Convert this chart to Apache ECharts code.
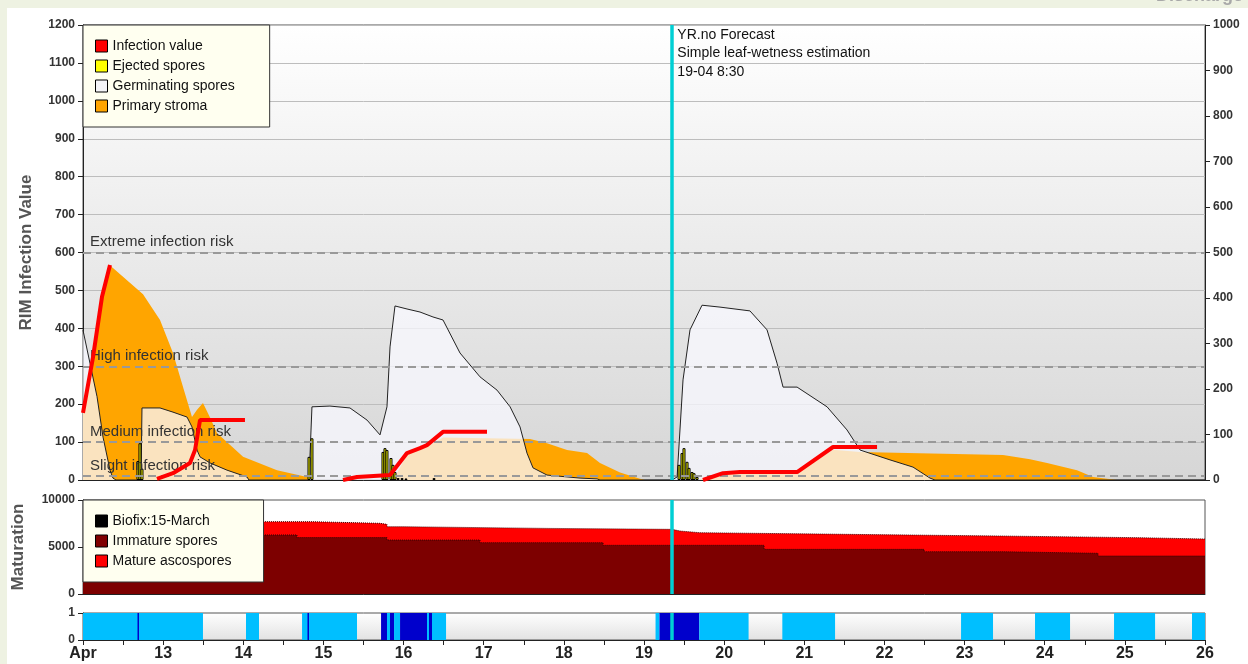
<!DOCTYPE html>
<html>
<head>
<meta charset="utf-8">
<title>RIM infection</title>
<script src="https://cdn.jsdelivr.net/npm/echarts@6/dist/echarts.min.js"></script>
<style>
  html, body { margin: 0; padding: 0; background: #eef2e2; }
  #main { width: 1248px; height: 664px; }
</style>
</head>
<body>
<div id="main"></div>
<script>
// x values are days after 12 April 00:00
const dayLabels = ['Apr', '13', '14', '15', '16', '17', '18', '19', '20', '21', '22', '23', '24', '25', '26']
const forecastAt = 7.354 // 19-04 8:30
const forecastText = ['YR.no Forecast', 'Simple leaf-wetness estimation', '19-04 8:30']

const riskLevels = [
  { name: 'Extreme infection risk', value: 600 },
  { name: 'High infection risk', value: 300 },
  { name: 'Medium infection risk', value: 100 },
  { name: 'Slight infection risk', value: 10 }
]

const infectionValue = [
  [0, 177], [0.125, 324], [0.237, 483], [0.337, 567], null,
  [0.923, 3], [1.123, 18], [1.335, 45], [1.398, 79], [1.46, 158], [2.021, 158], null,
  [3.244, 0], [3.419, 8], [3.831, 13], [4.043, 71], [4.205, 84], [4.292, 92], [4.492, 127], [5.041, 127], null,
  [7.736, 0], [7.986, 18], [8.198, 21], [8.91, 21], [9.359, 87], [9.908, 87]
]

const ejectedSpores = [
  [0.686, 50], [0.711, 97], [0.736, 30],
  [2.82, 61], [2.857, 110],
  [3.743, 74], [3.768, 84], [3.793, 79], [3.843, 58], [3.868, 40], [3.893, 21],
  [3.931, 5], [3.981, 5], [4.03, 4], [4.38, 5],
  [7.437, 40], [7.474, 71], [7.499, 84], [7.537, 48], [7.562, 32], [7.599, 21], [7.624, 18], [7.662, 8]
]

const germinatingSpores = [
  [0, 395], [0.087, 308], [0.175, 220], [0.25, 113], [0.337, 26], [0.374, 5], [0.412, 0],
  [0.724, 0], [0.736, 190], [0.961, 190], [1.123, 179], [1.298, 166], [1.36, 140], [1.423, 79],
  [1.46, 61], [1.585, 45], [1.797, 26], [2.046, 8], [2.071, 0],
  [2.82, 0], [2.857, 193], [3.081, 195], [3.331, 190], [3.544, 158], [3.706, 119], [3.793, 193],
  [3.831, 351], [3.893, 459], [4.043, 451], [4.205, 443], [4.367, 430], [4.492, 422], [4.704, 335],
  [4.954, 272], [5.166, 237], [5.329, 193], [5.453, 140], [5.54, 71], [5.615, 32], [5.79, 13],
  [6.202, 5], [6.414, 3], [6.451, 0],
  [7.35, 0], [7.413, 8], [7.487, 264], [7.574, 396], [7.724, 461], [7.948, 456], [8.322, 446],
  [8.535, 396], [8.66, 308], [8.735, 245], [8.91, 245], [9.284, 193], [9.533, 132], [9.696, 79],
  [10.07, 53], [10.357, 34], [10.569, 5], [10.631, 0], [14, 0]
]

const primaryStroma = [
  [0, 177], [0.125, 324], [0.237, 483], [0.337, 565], [0.374, 559], [0.749, 490], [0.961, 422],
  [1.123, 335], [1.248, 245], [1.36, 166], [1.423, 185], [1.497, 203], [1.585, 165], [1.672, 124],
  [1.997, 61], [2.421, 26], [2.795, 8], [2.895, 0],
  [3.831, 0], [3.893, 8], [4.043, 68], [4.205, 80], [4.292, 88], [4.492, 112], [5.578, 108],
  [5.79, 97], [6.04, 79], [6.289, 71], [6.451, 45], [6.701, 20], [6.95, 3], [7.013, 0],
  [7.699, 0], [7.736, 5], [7.986, 15], [8.198, 18], [8.91, 18], [9.359, 80], [9.696, 74],
  [11.48, 66], [11.817, 55], [12.029, 45], [12.403, 26], [12.603, 8], [12.903, 0]
]

// maturation: total spores (top of red) and immature spores, step values
const totalSpores = [
  [0, 7690], [2.87, 7520], [3.706, 7410], [3.793, 7160], [3.993, 6980], [5.802, 6880],
  [7.35, 6700], [7.45, 6520], [7.699, 6350], [9.508, 6170], [11.43, 5990], [13.177, 5850], [14, 5850]
]
const immatureSpores = [
  [0, 6280], [2.67, 6000], [3.793, 5740], [4.954, 5460], [6.489, 5180], [8.498, 4750],
  [10.494, 4500], [11.48, 4330], [12.665, 4040], [14, 4040]
]

// leaf wetness: [start, end, kind] kind 1 = wet (estimate), 2 = wet (measured)
const wetness = [
  [0, 1.497, 1], [0.68, 0.699, 2], [2.034, 2.196, 1], [2.733, 3.419, 1], [2.801, 2.82, 2],
  [3.719, 3.793, 2], [3.793, 3.831, 1], [3.831, 3.881, 2], [3.881, 3.956, 1], [3.956, 4.292, 2],
  [4.292, 4.317, 1], [4.317, 4.355, 2], [4.355, 4.53, 1],
  [7.144, 7.193, 1], [7.193, 7.69, 2], [7.69, 8.305, 1], [8.726, 9.384, 1],
  [10.956, 11.355, 1], [11.879, 12.316, 1], [12.865, 13.377, 1], [13.838, 14, 1]
]
const wetColors = { 1: '#00bfff', 2: '#0000cc' }

const font = 'Liberation Sans, Arial, sans-serif'
const chart = echarts.init(document.getElementById('main'))

const tickLabel = {
  fontFamily: font, fontSize: 12, fontWeight: 'bold', color: '#333',
  formatter: function(v) { return String(v) }
}
const blackLine = { show: true, lineStyle: { color: '#222', width: 1 } }
const outTick = { show: true, length: 5, lineStyle: { color: '#222' } }

function hiddenX(gridIndex) {
  return {
    type: 'value', gridIndex: gridIndex, min: 0, max: 14, interval: 1,
    axisLine: blackLine, axisTick: { show: false }, axisLabel: { show: false }, splitLine: { show: false }
  }
}

function cyanLine() {
  return {
    silent: true, symbol: 'none', label: { show: false },
    lineStyle: { color: '#00cfd4', width: 3.5, type: 'solid', opacity: 1 },
    data: [{ xAxis: forecastAt }]
  }
}

chart.setOption({
  backgroundColor: '#eef2e2',
  animation: false,
  grid: [
    {
      left: 83, right: 43, top: 25, height: 455, show: true, borderColor: '#555', borderWidth: 1,
      backgroundColor: new echarts.graphic.LinearGradient(0, 0, 0, 1, [
        { offset: 0, color: '#ffffff' }, { offset: 1, color: '#d6d6d6' }
      ])
    },
    { left: 83, right: 43, top: 500, height: 94, show: true, borderColor: '#555', borderWidth: 1, backgroundColor: '#fff' },
    {
      left: 83, right: 43, top: 613, height: 27, show: true, borderColor: '#555', borderWidth: 1,
      backgroundColor: new echarts.graphic.LinearGradient(0, 0, 0, 1, [
        { offset: 0, color: '#ffffff' }, { offset: 1, color: '#e2e2e2' }
      ])
    }
  ],
  legend: [
    {
      left: 83, top: 25, orient: 'vertical', itemGap: 6, itemWidth: 12, itemHeight: 12,
      padding: [14, 35, 14, 12], backgroundColor: '#fffff0', borderColor: '#333', borderWidth: 1,
      textStyle: { fontFamily: font, fontSize: 14, color: '#111' },
      selectedMode: false,
      data: [
        { name: 'Infection value', icon: 'rect', itemStyle: { color: '#ff0000', borderColor: '#000', borderWidth: 1 } },
        { name: 'Ejected spores', icon: 'rect', itemStyle: { color: '#ffff00', borderColor: '#000', borderWidth: 1 } },
        { name: 'Germinating spores', icon: 'rect', itemStyle: { color: '#f4f4f8', borderColor: '#000', borderWidth: 1 } },
        { name: 'Primary stroma', icon: 'rect', itemStyle: { color: '#ffa500', borderColor: '#000', borderWidth: 1 } }
      ]
    },
    {
      left: 83, top: 500, orient: 'vertical', itemGap: 6, itemWidth: 12, itemHeight: 12,
      padding: [14, 32, 14, 12], backgroundColor: '#fffff0', borderColor: '#333', borderWidth: 1,
      textStyle: { fontFamily: font, fontSize: 14, color: '#111' },
      selectedMode: false,
      data: [
        { name: 'Biofix:15-March', icon: 'rect', itemStyle: { color: '#000', borderColor: '#000', borderWidth: 1 } },
        { name: 'Immature spores', icon: 'rect', itemStyle: { color: '#800000', borderColor: '#000', borderWidth: 1 } },
        { name: 'Mature ascospores', icon: 'rect', itemStyle: { color: '#ff0000', borderColor: '#000', borderWidth: 1 } }
      ]
    }
  ],
  xAxis: [
    hiddenX(0),
    hiddenX(1),
    {
      type: 'value', gridIndex: 2, min: 0, max: 14, interval: 0.5,
      axisLine: blackLine,
      axisTick: { show: true, length: 5, lineStyle: { color: '#222' } },
      splitLine: { show: false },
      axisLabel: {
        margin: 6, fontFamily: font, fontSize: 16, fontWeight: 'bold', color: '#222',
        formatter: function(v) { return Number.isInteger(v) ? dayLabels[v] : '' }
      }
    }
  ],
  yAxis: [
    {
      type: 'value', gridIndex: 0, min: 0, max: 1200, interval: 100,
      name: 'RIM Infection Value', nameLocation: 'middle', nameGap: 48,
      nameTextStyle: { fontFamily: font, fontSize: 17, fontWeight: 'bold', color: '#555' },
      axisLine: blackLine, axisTick: outTick, axisLabel: tickLabel,
      splitLine: { show: true, lineStyle: { color: '#bdbdbd', width: 1 } }
    },
    {
      type: 'value', gridIndex: 0, position: 'right', min: 0, max: 1000, interval: 100,
      axisLine: blackLine, axisTick: outTick, axisLabel: tickLabel, splitLine: { show: false }
    },
    {
      type: 'value', gridIndex: 1, min: 0, max: 10000, interval: 5000,
      name: 'Maturation', nameLocation: 'middle', nameGap: 56,
      nameTextStyle: { fontFamily: font, fontSize: 17, fontWeight: 'bold', color: '#555' },
      axisLine: blackLine, axisTick: outTick, axisLabel: tickLabel, splitLine: { show: false }
    },
    {
      type: 'value', gridIndex: 2, min: 0, max: 1, interval: 1,
      axisLine: blackLine, axisTick: outTick, axisLabel: tickLabel, splitLine: { show: false }
    }
  ],
  series: [
    {
      name: 'Primary stroma', type: 'line', xAxisIndex: 0, yAxisIndex: 0, z: 2,
      symbol: 'none', lineStyle: { width: 0 }, itemStyle: { color: '#ffa500' },
      areaStyle: { color: '#ffa500', opacity: 1 }, data: primaryStroma
    },
    {
      name: 'Germinating spores', type: 'line', xAxisIndex: 0, yAxisIndex: 0, z: 3,
      symbol: 'none', lineStyle: { width: 1, color: '#222' }, itemStyle: { color: '#222' },
      areaStyle: { color: 'rgba(248,248,255,0.75)', opacity: 1 }, data: germinatingSpores
    },
    {
      name: 'Ejected spores', type: 'bar', xAxisIndex: 0, yAxisIndex: 0, z: 4,
      barWidth: 3, itemStyle: { color: '#ffff00', borderColor: '#000', borderWidth: 1 },
      data: ejectedSpores
    },
    {
      name: 'Infection value', type: 'line', xAxisIndex: 0, yAxisIndex: 0, z: 6,
      symbol: 'none', connectNulls: false, lineStyle: { width: 4, color: '#ff0000' },
      itemStyle: { color: '#ff0000' }, data: infectionValue
    },
    {
      name: 'risk', type: 'line', xAxisIndex: 0, yAxisIndex: 0, z: 5, data: [],
      markLine: {
        silent: true, symbol: 'none',
        lineStyle: { color: '#999', width: 2, type: [8, 5] },
        label: { position: 'insideStartTop', distance: [7, 3], fontFamily: font, fontSize: 15, color: '#333', formatter: '{b}' },
        data: riskLevels.map(r => ({ name: r.name, yAxis: r.value }))
      }
    },
    { name: 'forecast0', type: 'line', xAxisIndex: 0, yAxisIndex: 0, z: 8, data: [], markLine: cyanLine() },
    {
      name: 'Mature ascospores', type: 'line', xAxisIndex: 1, yAxisIndex: 2, z: 2, step: 'end',
      symbol: 'none', lineStyle: { width: 1, color: '#400', type: 'dotted' }, itemStyle: { color: '#ff0000' },
      areaStyle: { color: '#ff0000', opacity: 1 }, data: totalSpores
    },
    {
      name: 'Immature spores', type: 'line', xAxisIndex: 1, yAxisIndex: 2, z: 3, step: 'end',
      symbol: 'none', lineStyle: { width: 1, color: '#300', type: 'dotted' }, itemStyle: { color: '#800000' },
      areaStyle: { color: '#7d0000', opacity: 1 }, data: immatureSpores
    },
    { name: 'Biofix:15-March', type: 'line', xAxisIndex: 1, yAxisIndex: 2, itemStyle: { color: '#000' }, data: [] },
    { name: 'forecast1', type: 'line', xAxisIndex: 1, yAxisIndex: 2, z: 8, data: [], markLine: cyanLine() },
    {
      name: 'Leaf wetness', type: 'custom', xAxisIndex: 2, yAxisIndex: 3, z: 2,
      encode: { x: [0, 1] }, data: wetness,
      renderItem: function(params, api) {
        const s = api.coord([api.value(0), 1])
        const e = api.coord([api.value(1), 0])
        return {
          type: 'rect',
          shape: { x: s[0], y: s[1], width: Math.max(e[0] - s[0], 1.2), height: e[1] - s[1] },
          style: { fill: wetColors[api.value(2)] }
        }
      }
    },
    { name: 'forecast2', type: 'line', xAxisIndex: 2, yAxisIndex: 3, z: 8, data: [], markLine: cyanLine() }
  ]
})

// page panel, cut-off heading, forecast annotation next to the vertical line
const p = chart.convertToPixel({ gridIndex: 0 }, [forecastAt, 1200])
const graphics = [
  { id: 'panel', type: 'rect', z: -10, shape: { x: 7, y: 8, width: 1241, height: 656 }, style: { fill: '#fff' } },
  { id: 'heading', type: 'text', z: -5, x: 1156, y: -13, style: { text: 'Discharge', font: 'bold 18px ' + font, fill: '#a8a8a8' } }
]
forecastText.forEach((t, i) => {
  graphics.push({
    id: 'fc' + i, type: 'text', z: 20, x: p[0] + 5, y: p[1] + 3 + i * 18.5,
    style: { text: t, font: '14px ' + font, fill: '#111' }
  })
})
chart.setOption({ graphic: graphics })
</script>
</body>
</html>
